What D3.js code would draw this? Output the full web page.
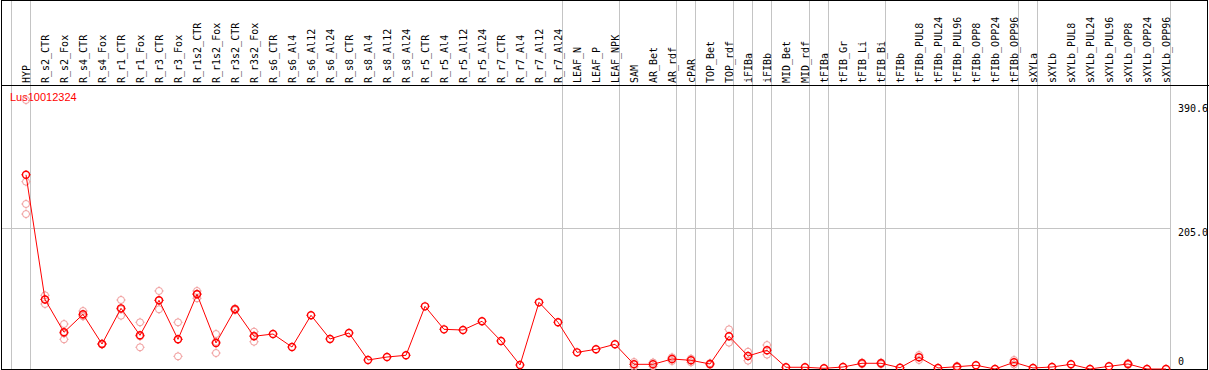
<!DOCTYPE html>
<html>
<script src="https://d3js.org/d3.v7.min.js"></script>
<style>
    body { margin: 0; background: white; }
    .lbl { font-family: "DejaVu Sans Mono", monospace; font-size: 10px; fill: black; }
</style>
<body></body>
<script>
    const labels = ["HYP", "R_s2_CTR", "R_s2_Fox", "R_s4_CTR", "R_s4_Fox", "R_r1_CTR", "R_r1_Fox",
        "R_r3_CTR", "R_r3_Fox", "R_r1s2_CTR", "R_r1s2_Fox", "R_r3s2_CTR", "R_r3s2_Fox",
        "R_s6_CTR", "R_s6_Al4", "R_s6_Al12", "R_s6_Al24", "R_s8_CTR", "R_s8_Al4", "R_s8_Al12", "R_s8_Al24",
        "R_r5_CTR", "R_r5_Al4", "R_r5_Al12", "R_r5_Al24", "R_r7_CTR", "R_r7_Al4", "R_r7_Al12", "R_r7_Al24",
        "LEAF_N", "LEAF_P", "LEAF_NPK", "SAM", "AR_Bet", "AR_rdf", "cPAR", "TOP_Bet", "TOP_rdf",
        "iFIBa", "iFIBb", "MID_Bet", "MID_rdf", "tFIBa", "tFIB_Gr", "tFIB_Li", "tFIB_Bi", "tFIBb",
        "tFIBb_PUL8", "tFIBb_PUL24", "tFIBb_PUL96", "tFIBb_OPP8", "tFIBb_OPP24", "tFIBb_OPP96",
        "sXYLa", "sXYLb", "sXYLb_PUL8", "sXYLb_PUL24", "sXYLb_PUL96", "sXYLb_OPP8", "sXYLb_OPP24", "sXYLb_OPP96"];

    // mean expression per sample
    const means = [282, 101, 53.3, 79.4, 36.3, 88.1, 48.9, 99.8, 43.1, 108.5, 37.8, 86.7, 47.5,
        50.8, 31.9, 78.0, 43.6, 52.3, 13.1, 17.4, 19.9,
        91.0, 57.6, 56.6, 69.3, 40.7, 5.8, 96.8, 67.8,
        24.2, 28.6, 35.9, 6.8, 6.8, 14.5, 12.6, 7.3, 47.5,
        18.9, 27.2, 2.5, 2.5, 1.0, 2.9, 8.3, 8.3, 1.9,
        17.0, 1.5, 3.3, 5.4, 0, 9.7,
        1.5, 2.9, 6.8, 0, 3.9, 7.3, 0, 0];

    // replicate values (faint circles)
    const reps = [[390.6, 272, 239.6, 225], [107, 94.4, 101], [65.3, 43.1, 51.5], [84.2, 77.4, 76.6],
        [37, 35.6], [100.2, 77.4, 86.7], [67.8, 31.5, 47.4], [113.3, 86.7, 99.4], [67.8, 18.4, 43.1],
        [113.3, 102.7, 109.5], [50.8, 23.2, 39.4], [88, 85.4], [54.2, 39.6, 48.7],
        [], [], [], [], [], [], [], [],
        [], [], [], [], [], [], [], [],
        [], [], [], [10.2, 3.3], [9.5, 4], [17, 11.6], [15, 9.7], [8.5, 6], [57.6, 38.2],
        [25.1, 12.1], [34.8, 20.8], [], [], [], [], [9.5, 7], [9.5, 7], [],
        [20.3, 13.1], [], [4.5, 2.2], [], [], [13.1, 6.5],
        [], [], [], [], [], [8.5, 6], [], []];

    // columns after which a grey separator is drawn
    const separators = [0, 1, 29, 32, 35, 36, 38, 39, 40, 42, 43, 46, 53, 54, 61];
    const yTicks = [390.6, 205.0, 0];
    const geneName = "Lus10012324";

    const width = 1209, height = 370;
    const svg = d3.select("body").append("svg").attr("width", width).attr("height", height);

    const x = d3.scaleLinear().domain([0, labels.length]).range([11, 1170]);
    const px = i => x(i) + 15;
    const y = d3.scaleLinear().domain([0, 390.6]).range([369, 100]);

    // grey separators
    svg.append("g").selectAll("line")
        .data(separators)
        .join("line")
        .attr("x1", d => Math.round(x(d)) + 0.5)
        .attr("x2", d => Math.round(x(d)) + 0.5)
        .attr("y1", 0).attr("y2", height)
        .attr("stroke", "#c4c4c4")
        .attr("shape-rendering", "crispEdges");

    // middle grid line
    svg.append("line")
        .attr("x1", 1).attr("x2", x(labels.length))
        .attr("y1", Math.round(y(205)) + 0.5).attr("y2", Math.round(y(205)) + 0.5)
        .attr("stroke", "#c4c4c4")
        .attr("shape-rendering", "crispEdges");

    // frame
    svg.append("rect")
        .attr("x", 1.5).attr("y", 0.5)
        .attr("width", 1206).attr("height", 368.5)
        .attr("fill", "none").attr("stroke", "black")
        .attr("shape-rendering", "crispEdges");
    svg.append("line")
        .attr("x1", 1).attr("x2", width)
        .attr("y1", 85.5).attr("y2", 85.5)
        .attr("stroke", "black")
        .attr("shape-rendering", "crispEdges");

    // column labels
    svg.append("g").selectAll("text")
        .data(labels)
        .join("text")
        .attr("class", "lbl")
        .attr("transform", (d, i) => `translate(${px(i) + 3.5},83)rotate(-90)`)
        .text(d => d);

    // right-hand value labels
    svg.append("g").selectAll("text")
        .data(yTicks)
        .join("text")
        .attr("class", "lbl")
        .attr("x", 1178)
        .attr("y", d => Math.min(365, Math.max(112, y(d) + 8)))
        .text(d => d === 0 ? "0" : d.toFixed(1));

    svg.append("text")
        .attr("x", 10).attr("y", 101)
        .attr("fill", "red")
        .attr("font-family", "Liberation Sans, Arial, sans-serif")
        .attr("font-size", 11)
        .text(geneName);

    function marker(g, color, sw) {
        g.append("circle").attr("r", 3.5)
            .attr("fill", "none").attr("stroke", color).attr("stroke-width", sw);
        g.append("path")
            .attr("d", "M0,-4.6V-3.5M0,3.5V4.6M-4.6,0H-3.5M3.5,0H4.6")
            .attr("stroke", color).attr("stroke-width", 1);
    }

    // replicate circles
    const repData = reps.flatMap((r, i) => r.map(v => ({ i, v })));
    svg.append("g").selectAll("g")
        .data(repData)
        .join("g")
        .attr("transform", d => `translate(${px(d.i)},${y(d.v)})`)
        .each(function () { marker(d3.select(this), "#f09a9a", 1); });

    // mean line
    svg.append("path")
        .datum(means)
        .attr("fill", "none")
        .attr("stroke", "red")
        .attr("stroke-width", 1)
        .attr("d", d3.line().x((d, i) => px(i)).y(d => y(d)));

    svg.append("g").selectAll("g")
        .data(means)
        .join("g")
        .attr("transform", (d, i) => `translate(${px(i)},${y(d)})`)
        .each(function () { marker(d3.select(this), "red", 1.4); });
</script>
</html>
